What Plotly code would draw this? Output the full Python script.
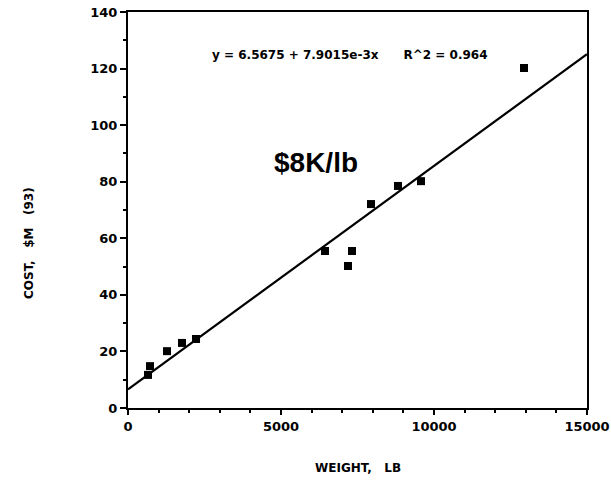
import plotly.graph_objects as go

weight_lb = [654, 719, 1275, 1765, 2222, 6438, 7190, 7320, 7941, 8824, 9575, 12941]
cost_m = [11.7, 14.8, 20.1, 23.0, 24.4, 55.5, 50.2, 55.5, 72.1, 78.5, 80.2, 120.2]
fit_intercept = 6.5675
fit_slope = 7.9015e-3
fit_x = [0, 15000]
fit_y = [fit_intercept + fit_slope * x for x in fit_x]
x_ticks = [0, 5000, 10000, 15000]
y_ticks = [0, 20, 40, 60, 80, 100, 120, 140]

FONT = "DejaVu Sans"
FONT2 = "Liberation Sans"

fig = go.Figure()
fig.add_trace(go.Scatter(x=fit_x, y=fit_y, mode="lines",
                         line=dict(color="black", width=2.2), showlegend=False))
fig.add_trace(go.Scatter(x=weight_lb, y=cost_m, mode="markers",
                         marker=dict(symbol="square", size=8, color="black"),
                         showlegend=False))

fig.add_annotation(x=0.484, y=0.914, xref="paper", yref="paper",
                   text="<b>y&nbsp;=&nbsp;6.5675&nbsp;+&nbsp;7.9015e-3x&nbsp;&nbsp;&nbsp;&nbsp;&nbsp;&nbsp;R^2&nbsp;=&nbsp;0.964</b>",
                   showarrow=False, font=dict(family=FONT, size=12, color="black"))
fig.add_annotation(x=0.41, y=0.62, xref="paper", yref="paper",
                   text="<b>$8K/lb</b>", showarrow=False,
                   font=dict(family=FONT2, size=28, color="black"))
fig.add_annotation(x=0.5, y=0, xref="paper", yref="paper", yshift=-69,
                   text="<b>WEIGHT,&nbsp;&nbsp;&nbsp;LB</b>", showarrow=False,
                   font=dict(family=FONT, size=12, color="black"))
fig.add_annotation(x=0, y=(408 - 243) / 396, xref="paper", yref="paper", xshift=-108,
                   text="<b>COST,&nbsp;&nbsp;&nbsp;$M&nbsp;&nbsp;&nbsp;(93)</b>", showarrow=False, textangle=-90,
                   font=dict(family=FONT, size=12, color="black"))

axis_common = dict(showline=True, linewidth=2, linecolor="black", mirror=True,
                   showgrid=False, zeroline=False, ticks="outside", automargin=False,
                   tickcolor="black", tickwidth=2,
                   tickfont=dict(family=FONT, size=13, color="black"))

fig.update_xaxes(range=[0, 15000], tickvals=x_ticks,
                 ticktext=["<b>%d</b>" % v for v in x_ticks],
                 ticklen=5,
                 minor=dict(dtick=1000, ticks="outside", ticklen=3, tickwidth=2, tickcolor="black"),
                 **axis_common)
fig.update_yaxes(range=[0, 140], tickvals=y_ticks,
                 ticktext=["<b>%d</b>" % v for v in y_ticks],
                 ticklen=6,
                 minor=dict(dtick=10, ticks="outside", ticklen=3, tickwidth=2, tickcolor="black"),
                 **axis_common)

fig.update_layout(width=611, height=487, margin=dict(l=128, r=24, t=12, b=79, autoexpand=False),
                  plot_bgcolor="white", paper_bgcolor="white")

fig.write_html("out.html")
